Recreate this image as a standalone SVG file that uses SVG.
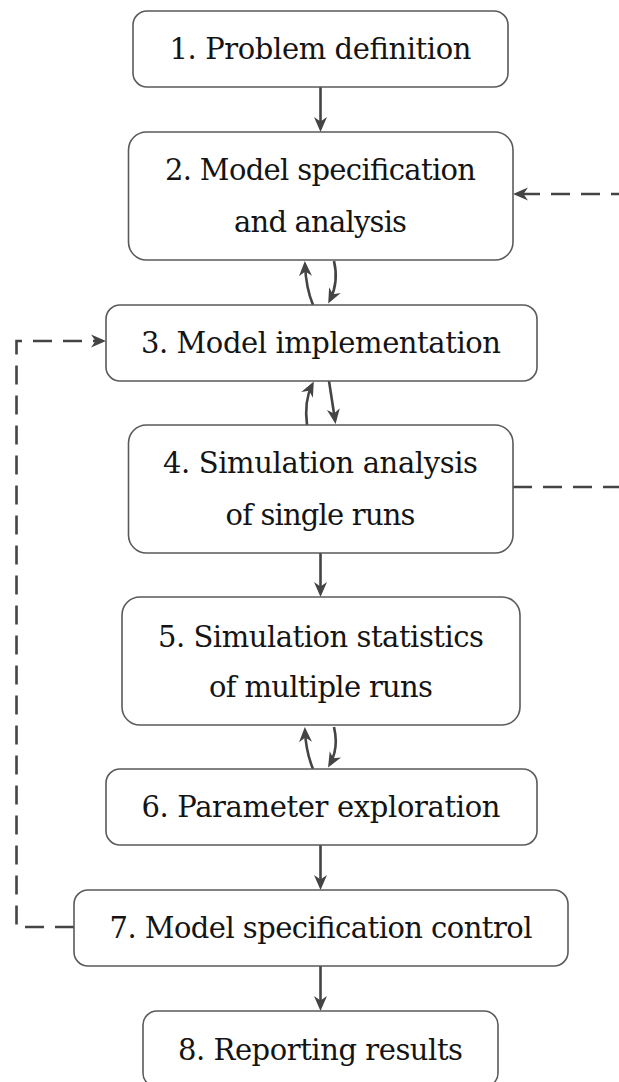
<svg xmlns="http://www.w3.org/2000/svg" width="619" height="1082" viewBox="0 0 619 1082">
  <style>
    .box { fill: #ffffff; stroke: #5a5a5a; stroke-width: 1.6; }
    .lbl { font-family: 'DejaVu Serif', 'Liberation Serif', serif; font-size: 29px; fill: #141414; text-anchor: middle; }
    .edge { fill: none; stroke: #444444; stroke-width: 2.6; }
    .dash { fill: none; stroke: #444444; stroke-width: 2.6; stroke-dasharray: 19 11; }
  </style>
  <defs>
    <marker id="ah" viewBox="-18 -8 22 16" refX="-4" refY="0" markerWidth="22" markerHeight="16" markerUnits="userSpaceOnUse" orient="auto">
      <path d="M-15,-6.5 L0,0 L-15,6.5 L-10.5,0 z" fill="#444444"/>
    </marker>
  </defs>

  <g id="connectors">
    <!-- straight downward steps -->
    <path class="edge" d="M320.5,87 L320.5,128" marker-end="url(#ah)"/>
    <path class="edge" d="M320.5,553 L320.5,593" marker-end="url(#ah)"/>
    <path class="edge" d="M320.5,845 L320.5,886" marker-end="url(#ah)"/>
    <path class="edge" d="M320.5,966 L320.5,1007" marker-end="url(#ah)"/>

    <!-- two-way links between 2 and 3 -->
    <path class="edge" d="M313,305 Q306,288 305,265" marker-end="url(#ah)"/>
    <path class="edge" d="M334,261 Q339,282 330,300" marker-end="url(#ah)"/>
    <!-- two-way links between 3 and 4 -->
    <path class="edge" d="M307,425 Q304,401 312,385" marker-end="url(#ah)"/>
    <path class="edge" d="M329,381 Q332,400 335,420" marker-end="url(#ah)"/>
    <!-- two-way links between 5 and 6 -->
    <path class="edge" d="M313,769 Q306,752 305,731" marker-end="url(#ah)"/>
    <path class="edge" d="M334,727 Q339,748 330,764" marker-end="url(#ah)"/>

    <!-- feedback loop from 4 back to 2 (runs past the right edge) -->
    <path class="dash" d="M513,487 L650,487 L650,194 L517,194" marker-end="url(#ah)"/>
    <!-- feedback loop from 7 back to 3 -->
    <path class="dash" d="M74,927 L16.5,927 L16.5,341 L102,341" marker-end="url(#ah)"/>
  </g>

  <g id="n1">
    <rect class="box" x="133" y="11" width="375" height="76" rx="14"/>
    <text class="lbl" x="320.5" y="59" textLength="302">1. Problem definition</text>
  </g>
  <g id="n2">
    <rect class="box" x="128.5" y="132" width="384.5" height="128" rx="18"/>
    <text class="lbl" x="320.5" y="180" textLength="311">2. Model specification</text>
    <text class="lbl" x="320.5" y="232" textLength="173">and analysis</text>
  </g>
  <g id="n3">
    <rect class="box" x="106" y="305" width="431" height="76" rx="14"/>
    <text class="lbl" x="321" y="353" textLength="360">3. Model implementation</text>
  </g>
  <g id="n4">
    <rect class="box" x="128.5" y="425" width="384.5" height="128" rx="18"/>
    <text class="lbl" x="320.5" y="473" textLength="315">4. Simulation analysis</text>
    <text class="lbl" x="320.5" y="525" textLength="190">of single runs</text>
  </g>
  <g id="n5">
    <rect class="box" x="122" y="597" width="398" height="128" rx="18"/>
    <text class="lbl" x="321" y="647" textLength="326">5. Simulation statistics</text>
    <text class="lbl" x="321" y="697" textLength="224">of multiple runs</text>
  </g>
  <g id="n6">
    <rect class="box" x="106" y="769" width="431" height="76" rx="14"/>
    <text class="lbl" x="321" y="817" textLength="359">6. Parameter exploration</text>
  </g>
  <g id="n7">
    <rect class="box" x="74" y="890" width="494" height="76" rx="14"/>
    <text class="lbl" x="321" y="938" textLength="423">7. Model specification control</text>
  </g>
  <g id="n8">
    <rect class="box" x="143" y="1011" width="355" height="76" rx="14"/>
    <text class="lbl" x="320.5" y="1060" textLength="285">8. Reporting results</text>
  </g>
</svg>
